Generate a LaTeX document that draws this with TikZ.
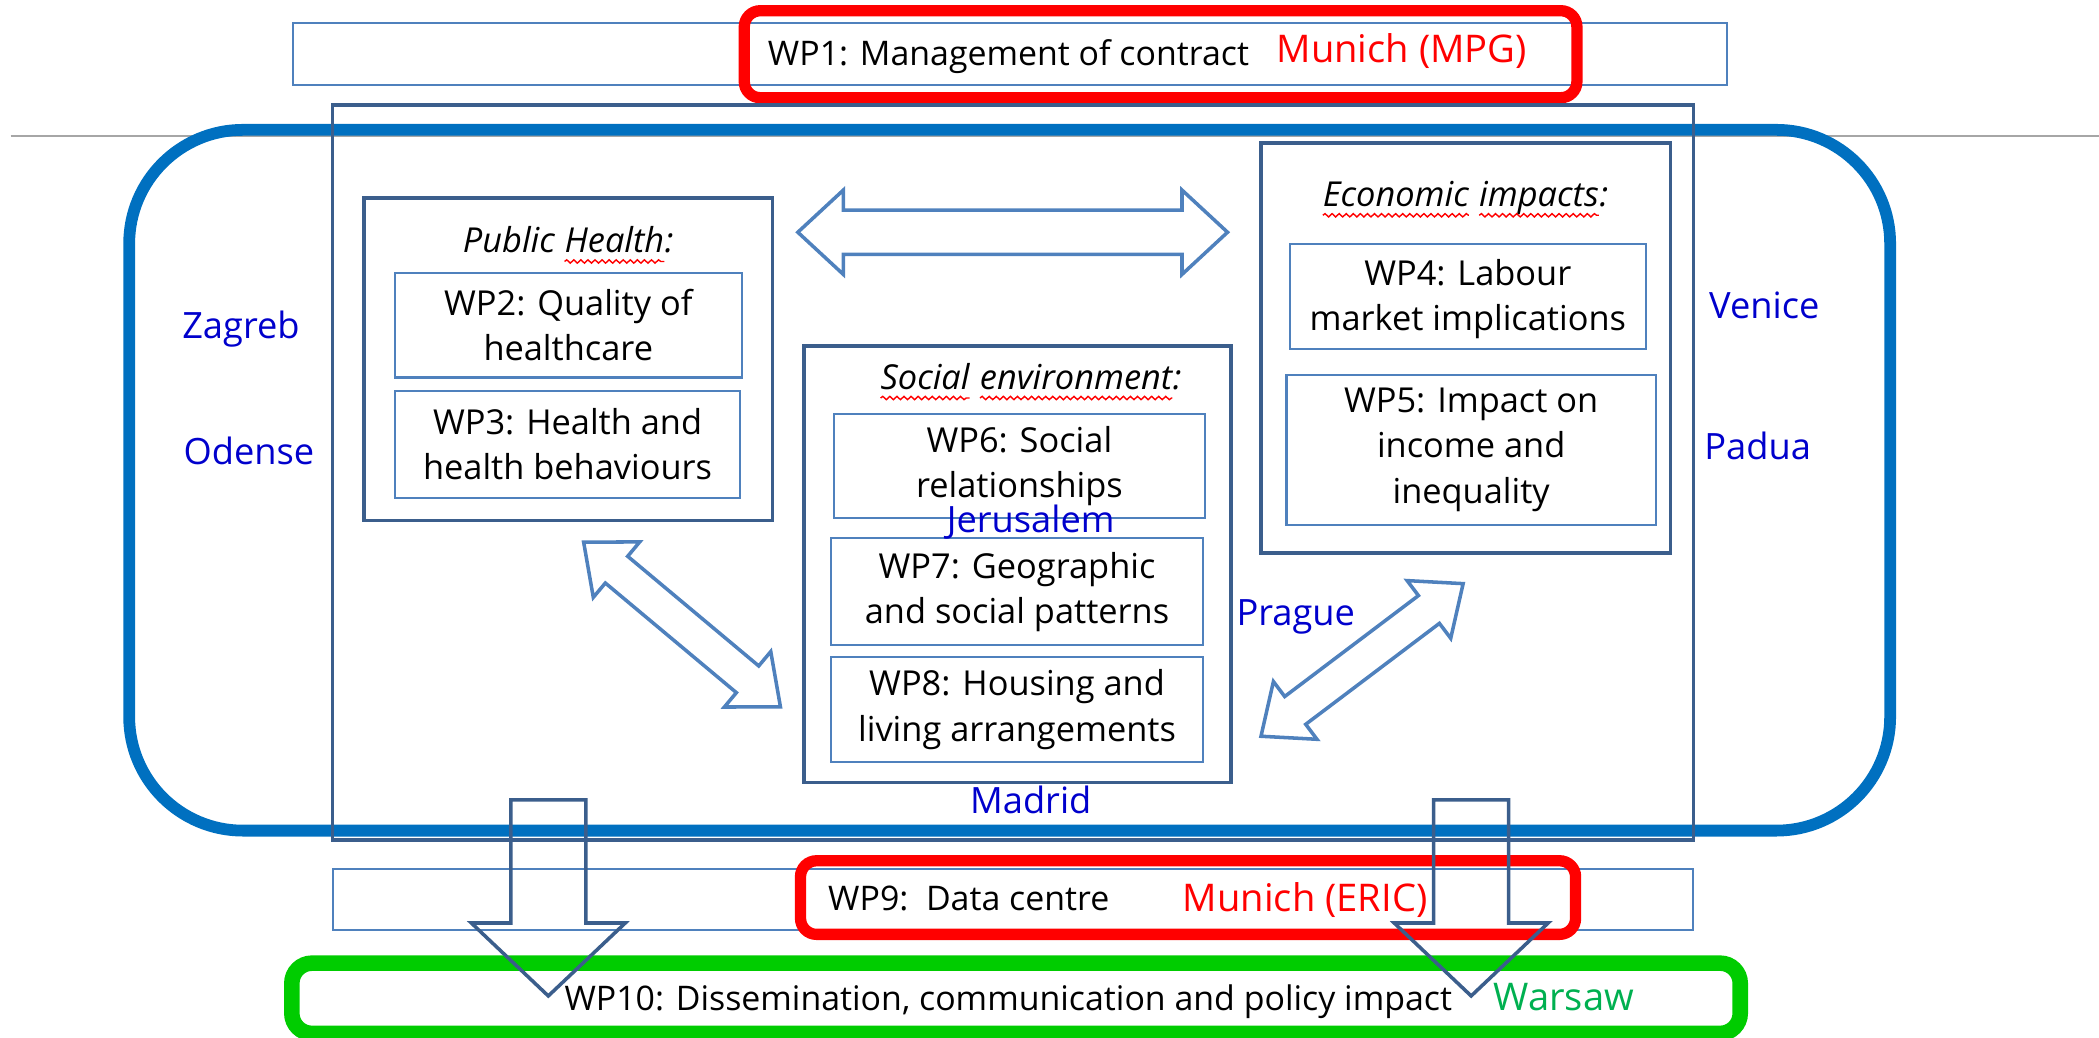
\documentclass[tikz,border=0pt]{standalone}
\usepackage{fontspec}
\setmainfont{Open Sans}
\usetikzlibrary{calc,fit,decorations.pathmorphing}
\definecolor{dkb}{HTML}{3B5E8C}
\definecolor{ltb}{HTML}{4F81BD}
\definecolor{bigb}{HTML}{0070C0}
\definecolor{city}{HTML}{0000CC}
\definecolor{grn}{HTML}{00CC00}
\definecolor{wars}{HTML}{00B050}
\definecolor{gline}{HTML}{A6A6A6}
\tikzset{
 lbox/.style={draw=ltb, line width=0.45pt, inner sep=0pt},
 btext/.style={inner sep=0pt, align=center, font=\fontsize{7.3}{9.6}\selectfont},
 dbox/.style={draw=dkb, line width=0.75pt, inner sep=0pt},
 hdr/.style={font=\fontsize{7.3}{9.6}\selectfont\itshape, inner sep=0pt},
 cityl/.style={text=city, font=\fontsize{7.7}{9.3}\selectfont, inner sep=0pt, anchor=base},
 barrow/.style={draw=ltb, line width=0.75pt, line join=miter},
 darrow/.style={draw=dkb, line width=0.75pt, line join=miter},
 redbox/.style={draw=red, line width=2.4pt, rounded corners=0.12cm, inner sep=0pt},
 greenbox/.style={draw=grn, line width=3.3pt, rounded corners=0.15cm, inner sep=0pt},
 bluebox/.style={draw=bigb, line width=2.5pt, rounded corners=0.85cm, inner sep=0pt},
 barbox/.style={draw=ltb, line width=0.45pt, inner sep=0pt},
 mtext/.style={font=\fontsize{7.2}{8.8}\selectfont, inner sep=0pt, anchor=base west},
 redt/.style={text=red, font=\fontsize{8.1}{9.7}\selectfont, inner sep=0pt, anchor=base west},
 grayline/.style={draw=gline, line width=0.35pt},
}
\newcommand\sqw[1]{\tikz[baseline=(sqn.base)]{\node[inner sep=0pt,outer sep=0pt](sqn){#1};\draw[red,line width=0.3pt,decorate,decoration={snake,amplitude=0.35pt,segment length=1.5pt}]([yshift=-1.8pt]sqn.base west)--([yshift=-1.8pt]sqn.base east);}}
\newcommand\dblarr[5]{%
\draw[barrow] (#1)
 -- ($(#1)!#3!(#2)!#4!90:(#2)$)
 -- ($(#1)!#3!(#2)!#5!90:(#2)$)
 -- ($(#2)!#3!(#1)!#5!-90:(#1)$)
 -- ($(#2)!#3!(#1)!#4!-90:(#1)$)
 -- (#2)
 -- ($(#2)!#3!(#1)!#4!90:(#1)$)
 -- ($(#2)!#3!(#1)!#5!90:(#1)$)
 -- ($(#1)!#3!(#2)!#5!-90:(#2)$)
 -- ($(#1)!#3!(#2)!#4!-90:(#2)$)
 -- cycle;}
\begin{document}
\begin{tikzpicture}[x=0.01cm,y=-0.01cm]
\useasboundingbox (0,0) rectangle (1568,775.4);
\draw[grayline] (8,101.5) -- (1568,101.5);

% WP1
\node[barbox, fit={(219,17.5)(1290,63.5)}] (wp1bar) {};
\node[redbox, fit={(556,8)(1178,73)}] (wp1red) {};
\node[mtext] (wp1t) at (573,49) {WP1: Management of contract};
\node[redt] (mpg) at (953,47) {Munich (MPG)};

% regions
\node[bluebox, fit={(96.5,97)(1412,620.5)}] (region) {};
\node[dbox, fit={(248.5,78.5)(1265,627.5)}] (core) {};

% public health
\node[dbox, fit={(272,148)(577,389)}] (ph) {};
\node[hdr, anchor=base] (pht) at (424.5,189) {Public \sqw{Health}:};
\node[lbox, fit={(295,204)(554,282)}] (wp2) {};
\node[btext] (wp2t) at (wp2.center) {WP2: Quality of\\healthcare};
\node[lbox, fit={(295,292)(553,372)}] (wp3) {};
\node[btext] (wp3t) at (wp3.center) {WP3: Health and\\health behaviours};

% economic
\node[dbox, fit={(942,107)(1248,413)}] (eco) {};
\node[hdr, anchor=base] (ecot) at (1094.5,154.5) {\sqw{Economic} \sqw{impacts}:};
\node[lbox, fit={(963.5,182)(1229.5,261)}] (wp4) {};
\node[btext] (wp4t) at ([yshift=-0.02cm]wp4.center) {WP4: Labour\\market implications};
\node[lbox, fit={(961,280)(1237,392)}] (wp5) {};
\node[btext] (wp5t) at (wp5.center) {WP5: Impact on\\income and\\inequality};

% social
\node[dbox, fit={(600.5,258.5)(919.5,584.5)}] (soc) {};
\node[hdr, anchor=base] (soct) at (770,291) {\sqw{Social} \sqw{environment}:};
\node[lbox, fit={(623,309)(900,387)}] (wp6) {};
\node[btext] (wp6t) at (wp6.center) {WP6: Social\\relationships};
\node[lbox, fit={(621,402)(898.5,482)}] (wp7) {};
\node[btext] (wp7t) at (wp7.center) {WP7: Geographic\\and social patterns};
\node[lbox, fit={(621,490.5)(898.5,569.5)}] (wp8) {};
\node[btext] (wp8t) at (wp8.center) {WP8: Housing and\\living arrangements};

% cities
\node[cityl] (zagreb) at (180,253) {Zagreb};
\node[cityl] (odense) at (186,347) {Odense};
\node[cityl] (venice) at (1318,238) {Venice};
\node[cityl] (padua) at (1313,343) {Padua};
\node[cityl] (jerus) at (770,398) {Jerusalem};
\node[cityl] (prague) at (968,467) {Prague};
\node[cityl] (madrid) at (770,608) {Madrid};

% double arrows
\coordinate (hA) at (596,173.5); \coordinate (hB) at (917,173.5);
\dblarr{hA}{hB}{0.34cm}{0.315cm}{0.165cm}
\coordinate (lA) at (436,405); \coordinate (lB) at (583,528);
\dblarr{lA}{lB}{0.32cm}{0.27cm}{0.13cm}
\coordinate (rA) at (1093,436); \coordinate (rB) at (942,550);
\dblarr{rA}{rB}{0.32cm}{0.27cm}{0.13cm}

% WP9
\node[barbox, fit={(248.5,649)(1265,695)}] (wp9bar) {};
\node[redbox, fit={(598,643)(1177,698)}] (wp9red) {};
\node[mtext] (wp9t) at (618,680) {WP9:\ \ Data centre};
\node[redt] (eric) at (883,681) {Munich (ERIC)};

% WP10
\node[greenbox, fit={(218,719.5)(1300,772)}] (wp10box) {};
\node[mtext] (wp10t) at (421,755) {WP10: Dissemination, communication and policy impact};
\node[redt, text=wars] (warsaw) at (1115,755) {Warsaw};

% down arrows
\coordinate (dlTop) at (409.6,597.5); \coordinate (dlTip) at (409.6,744);
\draw[darrow] ($(dlTop)+(-28,0)$) -- ($(dlTop)+(28,0)$) -- ($(dlTop)+(28,92)$) -- ($(dlTop)+(57.5,92)$) -- (dlTip) -- ($(dlTop)+(-57.5,92)$) -- ($(dlTop)+(-28,92)$) -- cycle;
\coordinate (drTop) at (1099,597.5); \coordinate (drTip) at (1099,744);
\draw[darrow] ($(drTop)+(-28,0)$) -- ($(drTop)+(28,0)$) -- ($(drTop)+(28,92)$) -- ($(drTop)+(57.5,92)$) -- (drTip) -- ($(drTop)+(-57.5,92)$) -- ($(drTop)+(-28,92)$) -- cycle;
\end{tikzpicture}
\end{document}
